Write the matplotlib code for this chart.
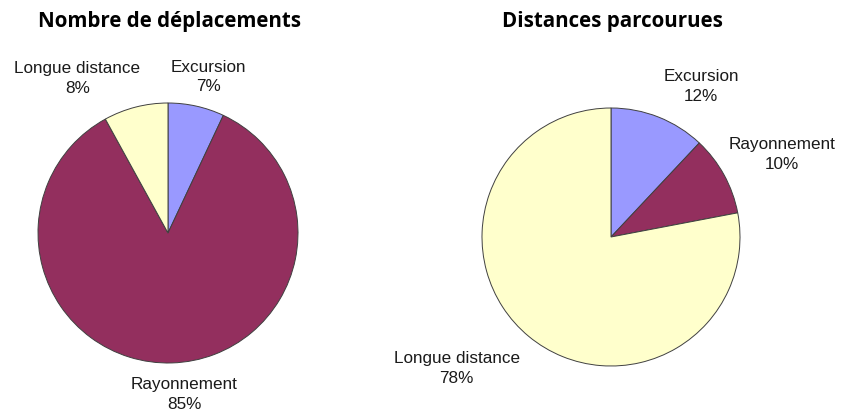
import numpy as np
import matplotlib.pyplot as plt

# données (parts en %)
categories = ['Excursion', 'Rayonnement', 'Longue distance']
deplacements = [7, 85, 8]
distances = [12, 10, 78]
titres = ['Nombre de déplacements', 'Distances parcourues']

couleurs = ['#9999FF', '#932F5E', '#FFFFCC']

W, H = 842, 416
fig = plt.figure(figsize=(W / 100, H / 100), dpi=100)

L = 1.8  # demi-largeur des axes (rayon = 1)


def camembert(cx, cy, r, valeurs, titre, tx, pos_labels):
    size = 2 * L * r
    ax = fig.add_axes([(cx - size / 2) / W, (H - cy - size / 2) / H, size / W, size / H])
    wedges, _ = ax.pie(valeurs, colors=couleurs, startangle=90, counterclock=False,
                       wedgeprops=dict(edgecolor='#404040', linewidth=0.7))
    ax.set_xlim(-L, L)
    ax.set_ylim(-L, L)
    ax.axis('off')
    # étiquettes autour de la tarte
    for w, cat, v, (ang_off, dist) in zip(wedges, categories, valeurs, pos_labels):
        a = np.deg2rad((w.theta1 + w.theta2) / 2 + ang_off)
        ax.text(dist * np.cos(a), dist * np.sin(a), f'{cat}\n{v}%',
                ha='center', va='center', fontsize=12.3, color='#1a1a1a',
                family='Liberation Sans', linespacing=1.4)
    fig.text(tx / W, 1 - 21 / H, titre, ha='center', va='center',
             fontsize=14.8, fontweight='bold', family='Open Sans')


camembert(168, 233, 130, deplacements, titres[0], 170,
          [(-2, 1.24), (4, 1.25), (16, 1.38)])
camembert(611, 237, 129, distances, titres[1], 612,
          [(-9.4, 1.36), (-3, 1.47), (-10, 1.57)])

fig.savefig('out.png', dpi=100, facecolor='white')
